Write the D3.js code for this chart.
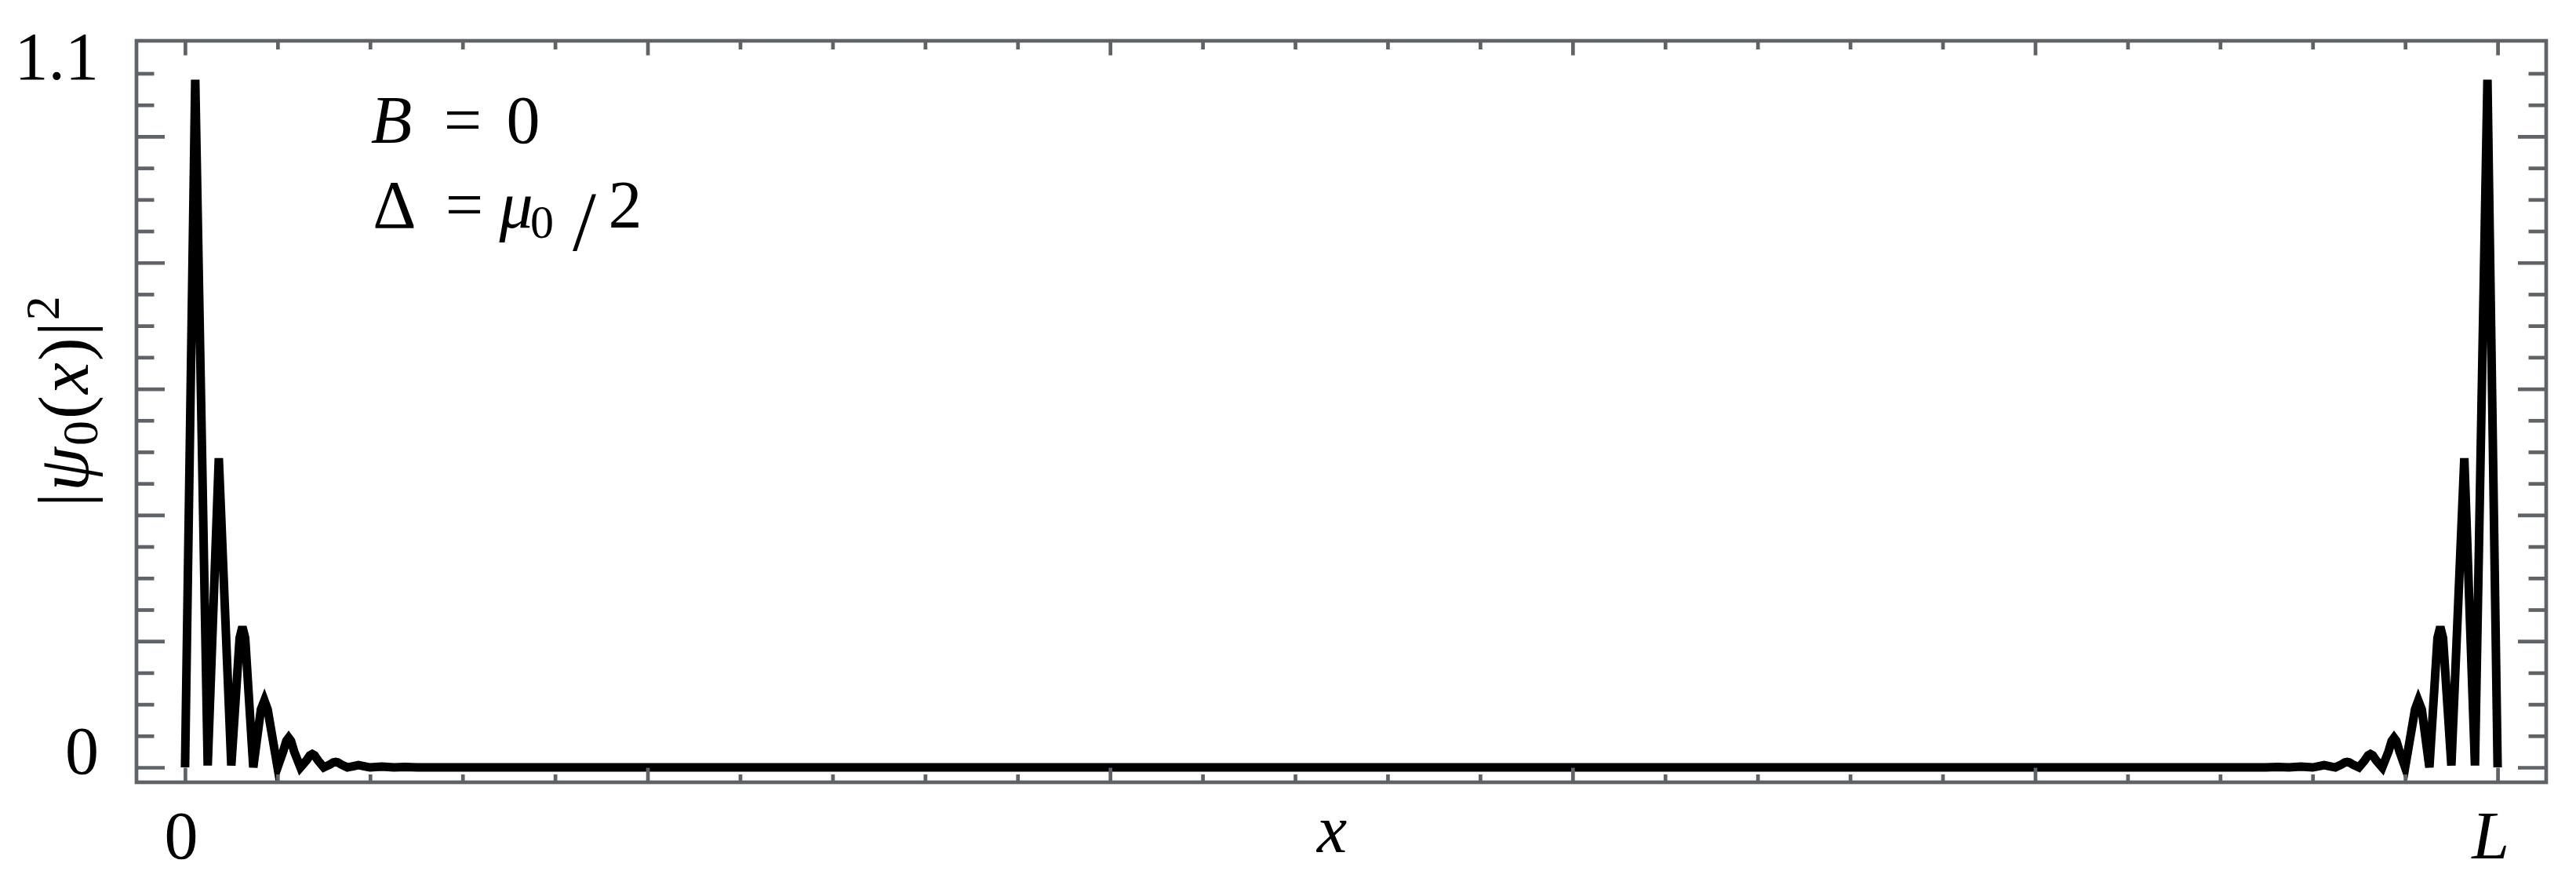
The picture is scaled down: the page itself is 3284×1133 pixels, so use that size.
<!DOCTYPE html>
<html>
<head>
<meta charset="utf-8">
<script src="https://cdn.jsdelivr.net/npm/d3@7"></script>
<style>
  html, body { margin: 0; padding: 0; background: #ffffff; }
  svg { display: block; }
  text { font-family: "Liberation Serif", "DejaVu Serif", serif; fill: #000; }
</style>
</head>
<body>
<script>
// ---------------- data (x in units of L, y = |psi_0(x)|^2) ----------------
const xPositions = [
  0, 0.0044, 0.0098, 0.0146, 0.0200, 0.0236, 0.0248, 0.0260, 0.0295,
  0.0328, 0.0343, 0.0357, 0.0400, 0.0424, 0.0438, 0.0448, 0.0458, 0.0472, 0.0499,
  0.0525, 0.0540, 0.0550, 0.0560, 0.0575, 0.0600,
  0.0626, 0.0641, 0.0651, 0.0661, 0.0676, 0.0702,
  0.0726, 0.0750, 0.0775, 0.0800, 0.0851, 0.0902, 0.0952, 0.1003,
  0.3000, 0.5000, 0.7000,
  0.8997, 0.9048, 0.9098, 0.9149, 0.9200, 0.9225, 0.9250, 0.9274, 0.9298,
  0.9324, 0.9339, 0.9349, 0.9359, 0.9374, 0.9400,
  0.9425, 0.9440, 0.9450, 0.9460, 0.9475, 0.9501,
  0.9528, 0.9542, 0.9552, 0.9562, 0.9576, 0.9600,
  0.9643, 0.9657, 0.9672, 0.9705, 0.9740, 0.9752, 0.9764, 0.9800,
  0.9856, 0.9902, 0.9956, 1.0000
];
const psiSquared = [
  0, 1.090, 0.003, 0.490, 0.003, 0.205, 0.223, 0.205, 0.000,
  0.092, 0.106, 0.092, 0.000, 0.025, 0.042, 0.047, 0.042, 0.025, 0.000,
  0.011, 0.019, 0.021, 0.019, 0.011, 0.000,
  0.0045, 0.0078, 0.0085, 0.0078, 0.0045, 0.000,
  0.0018, 0.0035, 0.0018, 0.000, 0.0014, 0.000, 0.0005, 0.000,
  0.0001, 0.0000, 0.0001,
  0.000, 0.0005, 0.000, 0.0014, 0.000, 0.0018, 0.0035, 0.0018, 0.000,
  0.0045, 0.0078, 0.0085, 0.0078, 0.0045, 0.000,
  0.011, 0.019, 0.021, 0.019, 0.011, 0.000,
  0.025, 0.042, 0.047, 0.042, 0.025, 0.000,
  0.092, 0.106, 0.092, 0.000, 0.205, 0.223, 0.205, 0.003,
  0.490, 0.003, 1.090, 0
];

const xMajorTicks = [0, 0.2, 0.4, 0.6, 0.8, 1.0];
const xMinorTicks = d3.range(0, 26).map(i => i / 25).filter(v => Math.round(v * 25) % 5 !== 0);
const yMajorTicks = [0, 0.2, 0.4, 0.6, 0.8, 1.0];
const yMinorTicks = d3.range(0, 23).map(i => i * 0.05).filter(v => Math.round(v * 20) % 4 !== 0);

const xLabelValues = [0, 1];
const xLabelTexts = ["0", "L"];
const yLabelValues = [0, 1.1];
const yLabelTexts = ["0", "1.1"];

// ---------------- layout ----------------
const W = 3284, H = 1133;
const fLeft = 174, fRight = 3246, fTop = 52, fBottom = 997;
const frameColor = "#5f6367";

const svg = d3.select("body").append("svg").attr("width", W).attr("height", H);
svg.append("rect").attr("width", W).attr("height", H).attr("fill", "#fff");

const x = d3.scaleLinear().domain([-0.021, 1.021]).range([fLeft, fRight]);
const y = d3.scaleLinear().domain([-0.0236, 1.1516]).range([fBottom, fTop]);

// curve
const data = xPositions.map((v, i) => [v, psiSquared[i]]);
const line = d3.line().x(d => x(d[0])).y(d => y(d[1]));
svg.append("path")
  .datum(data)
  .attr("d", line)
  .attr("fill", "none")
  .attr("stroke", "#000")
  .attr("stroke-width", 11)
  .attr("stroke-linejoin", "miter")
  .attr("stroke-miterlimit", 4);

// axes (ticks inward)
function styleAxis(g) {
  g.select(".domain").remove();
  g.selectAll(".tick line").attr("stroke", frameColor).attr("stroke-width", 4.7);
  g.selectAll(".tick text").remove();
}
const axes = [
  [d3.axisBottom(x).tickValues(xMajorTicks).tickSize(-18.5), 0, fBottom],
  [d3.axisBottom(x).tickValues(xMinorTicks).tickSize(-10), 0, fBottom],
  [d3.axisTop(x).tickValues(xMajorTicks).tickSize(-18.5), 0, fTop],
  [d3.axisTop(x).tickValues(xMinorTicks).tickSize(-11), 0, fTop],
  [d3.axisLeft(y).tickValues(yMajorTicks).tickSize(-36), fLeft, 0],
  [d3.axisLeft(y).tickValues(yMinorTicks).tickSize(-22.5), fLeft, 0],
  [d3.axisRight(y).tickValues(yMajorTicks).tickSize(-36), fRight, 0],
  [d3.axisRight(y).tickValues(yMinorTicks).tickSize(-22.5), fRight, 0]
];
axes.forEach(([ax, tx, ty]) => {
  svg.append("g").attr("transform", `translate(${tx},${ty})`).call(ax.tickFormat("")).call(styleAxis);
});

// frame
svg.append("rect")
  .attr("x", fLeft).attr("y", fTop)
  .attr("width", fRight - fLeft).attr("height", fBottom - fTop)
  .attr("fill", "none").attr("stroke", frameColor).attr("stroke-width", 4.7);

// tick labels
const fs = 86;
svg.append("g").selectAll("text").data(yLabelValues).join("text")
  .attr("x", 126)
  .attr("y", d => y(d) + 7.5)
  .attr("text-anchor", "end")
  .attr("font-size", fs)
  .text((d, i) => yLabelTexts[i]);

svg.append("g").selectAll("text").data(xLabelValues).join("text")
  .attr("x", (d, i) => x(d) + (i === 0 ? -5 : -9))
  .attr("y", 1094)
  .attr("text-anchor", "middle")
  .attr("font-size", fs)
  .attr("font-style", (d, i) => xLabelTexts[i] === "L" ? "italic" : "normal")
  .text((d, i) => xLabelTexts[i]);

// axis labels
svg.append("text")
  .attr("x", (x(0) + x(1)) / 2 - 12)
  .attr("y", 1086)
  .attr("text-anchor", "middle")
  .attr("font-size", fs)
  .attr("font-style", "italic")
  .text("x");

const yl = svg.append("text")
  .attr("transform", "translate(112,646) rotate(-90)")
  .attr("font-size", 90)
  .attr("letter-spacing", 2);
yl.append("tspan").text("|");
yl.append("tspan").attr("font-style", "italic").text("ψ");
yl.append("tspan").attr("font-size", 64).attr("dy", 12).text("0");
yl.append("tspan").attr("dy", -12).text("(");
yl.append("tspan").attr("font-style", "italic").text("x");
yl.append("tspan").text(")|");
yl.append("tspan").attr("font-size", 62).attr("dy", -37).text("2");

// annotation
const a1 = svg.append("text").attr("font-size", fs).attr("y", 182);
a1.append("tspan").attr("x", 499).attr("text-anchor", "middle").attr("font-style", "italic").text("B");
a1.append("tspan").attr("x", 590).attr("text-anchor", "middle").text("=");
a1.append("tspan").attr("x", 667).attr("text-anchor", "middle").text("0");

const a2 = svg.append("text").attr("font-size", fs).attr("y", 290);
a2.append("tspan").attr("x", 503).attr("text-anchor", "middle").text("Δ");
a2.append("tspan").attr("x", 592).attr("text-anchor", "middle").text("=");
a2.append("tspan").attr("x", 658).attr("text-anchor", "middle").attr("font-style", "italic").text("μ");
a2.append("tspan").attr("x", 691).attr("text-anchor", "middle").attr("font-size", 60).attr("dy", 13).text("0");
a2.append("tspan").attr("x", 745).attr("text-anchor", "middle").attr("font-size", 108).attr("dy", 16).text("/");
a2.append("tspan").attr("x", 797).attr("text-anchor", "middle").attr("dy", -29).text("2");
</script>
</body>
</html>
